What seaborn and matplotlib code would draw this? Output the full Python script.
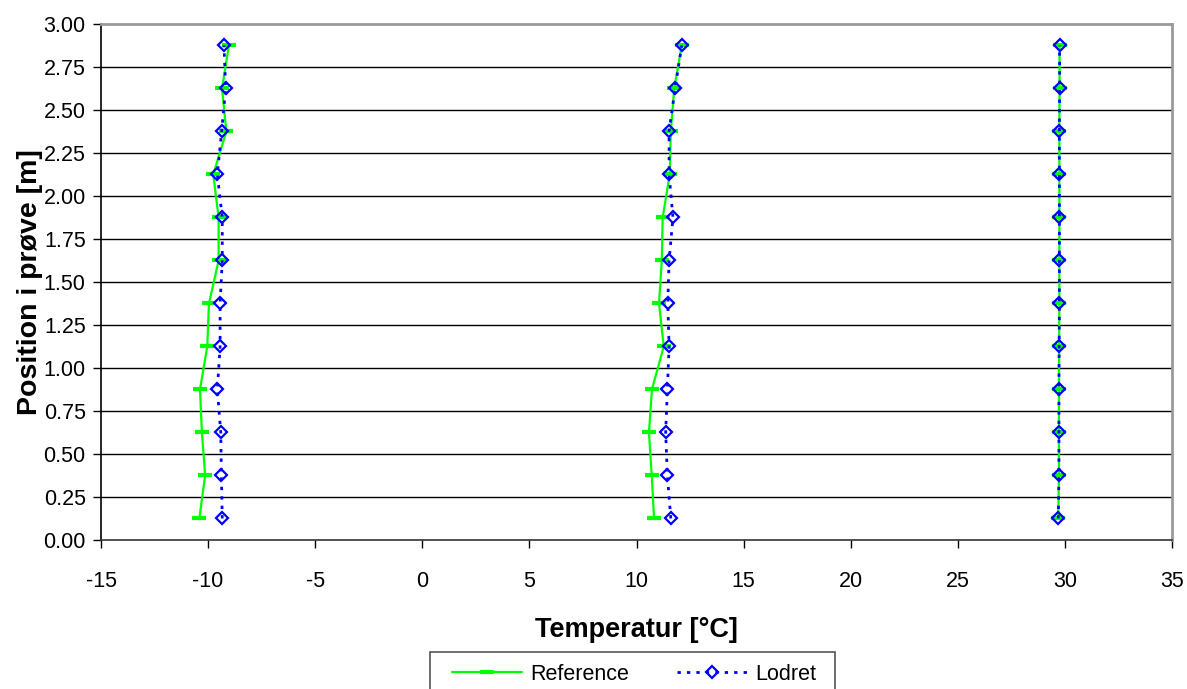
import numpy as np
import pandas as pd
import matplotlib
matplotlib.use("Agg")
import matplotlib.pyplot as plt
from matplotlib.lines import Line2D
from matplotlib.patches import Rectangle
import seaborn as sns

# Positions in sample [m], bottom to top
positions = [0.125, 0.375, 0.625, 0.875, 1.125, 1.375, 1.625, 1.875, 2.125, 2.375, 2.625, 2.875]

# Reference temperatures [°C], three test levels
ref_cold = [-10.41, -10.14, -10.29, -10.38, -10.04, -9.96, -9.51, -9.51, -9.76, -9.15, -9.35, -9.03]
ref_mid = [10.82, 10.71, 10.58, 10.72, 11.27, 11.05, 11.18, 11.22, 11.55, 11.60, 11.76, 12.11]
ref_warm = [29.69, 29.72, 29.72, 29.72, 29.73, 29.74, 29.74, 29.74, 29.74, 29.74, 29.75, 29.75]

# Lodret (vertical) temperatures [°C]
lod_cold = [-9.34, -9.38, -9.41, -9.57, -9.44, -9.44, -9.34, -9.34, -9.57, -9.37, -9.18, -9.26]
lod_mid = [11.60, 11.44, 11.36, 11.44, 11.52, 11.46, 11.52, 11.70, 11.52, 11.52, 11.80, 12.11]
lod_warm = [29.69, 29.72, 29.72, 29.72, 29.73, 29.74, 29.74, 29.74, 29.74, 29.74, 29.75, 29.75]

series_names = ["Reference", "Lodret"]
x_ticks = [-15, -10, -5, 0, 5, 10, 15, 20, 25, 30, 35]
y_ticks = [0.00, 0.25, 0.50, 0.75, 1.00, 1.25, 1.50, 1.75, 2.00, 2.25, 2.50, 2.75, 3.00]


def build(groups):
    rows = []
    for gi, temps in enumerate(groups):
        for p, t in zip(positions, temps):
            rows.append({"temp": t, "pos": p, "group": gi})
    return pd.DataFrame(rows)


df_ref = build([ref_cold, ref_mid, ref_warm])
df_lod = build([lod_cold, lod_mid, lod_warm])

sns.set_theme(style="white")
plt.rcParams["font.family"] = ["Liberation Sans", "DejaVu Sans"]
plt.rcParams["text.color"] = "black"
plt.rcParams["axes.labelcolor"] = "black"
plt.rcParams["xtick.color"] = "black"
plt.rcParams["ytick.color"] = "black"

W, H = 1187, 689
fig = plt.figure(figsize=(W / 100, H / 100), dpi=100)
ax = fig.add_axes([0.0851, 0.2163, 0.9023, 0.7489])

for yt in y_ticks[1:-1]:
    ax.axhline(yt, color="black", linewidth=1.0, zorder=0)

green = "#00FF00"
blue = "#0000FF"

sns.lineplot(data=df_ref, x="temp", y="pos", units="group", estimator=None, sort=False,
             color=green, linewidth=1.6, marker="_", markersize=10, markeredgewidth=3.0,
             markeredgecolor=green, ax=ax, legend=False, zorder=3)
sns.lineplot(data=df_lod, x="temp", y="pos", units="group", estimator=None, sort=False,
             color=blue, linewidth=2.0, linestyle=(0, (1.2, 2.2)), marker="D", markersize=6.5,
             markeredgewidth=1.6, markerfacecolor="none", markeredgecolor=blue,
             ax=ax, legend=False, zorder=4)

ax.set_xlim(-15, 35)
ax.set_ylim(0, 3)
ax.set_xticks(x_ticks)
ax.set_yticks(y_ticks)
ax.set_xticklabels([str(v) for v in x_ticks], fontsize=15.5)
ax.set_yticklabels([f"{v:.2f}" for v in y_ticks], fontsize=15.5)
ax.tick_params(axis="both", which="major", direction="out", length=6, width=1,
               color="black", left=True, bottom=True)
ax.tick_params(axis="x", pad=16)
ax.tick_params(axis="y", pad=5)

ax.set_xlabel("Temperatur [°C]", fontsize=19.5, fontweight="bold", labelpad=18)
ax.set_ylabel("Position i prøve [m]", fontsize=20.5, fontweight="bold", labelpad=0)

for side in ["top", "right"]:
    ax.spines[side].set_color("#999999")
    ax.spines[side].set_linewidth(2)
ax.spines["left"].set_color("black")
ax.spines["left"].set_linewidth(1.2)
ax.spines["bottom"].set_color("#333333")
ax.spines["bottom"].set_linewidth(1.2)
ax.grid(False)

# legend box
fig.patches.append(Rectangle((430 / W, -0.05), 405 / W, 0.05 + 37 / H,
                             transform=fig.transFigure, fill=False,
                             edgecolor="#555555", linewidth=1.2))

handles = [
    Line2D([0], [0], color=green, linewidth=1.6, marker="_", markersize=10, markeredgewidth=3),
    Line2D([0], [0], color=blue, linewidth=2.0, linestyle=(0, (1.2, 2.2)), marker="D",
           markersize=6.5, markeredgewidth=1.6, markerfacecolor="none", markeredgecolor=blue),
]
leg = fig.legend(handles, series_names, loc="center", bbox_to_anchor=(634 / W, 15 / H),
                 ncol=2, fontsize=15.5, frameon=False,
                 handlelength=3.25, columnspacing=2.2, borderpad=0.3, handletextpad=0.4)

fig.savefig("out.png", dpi=100)
